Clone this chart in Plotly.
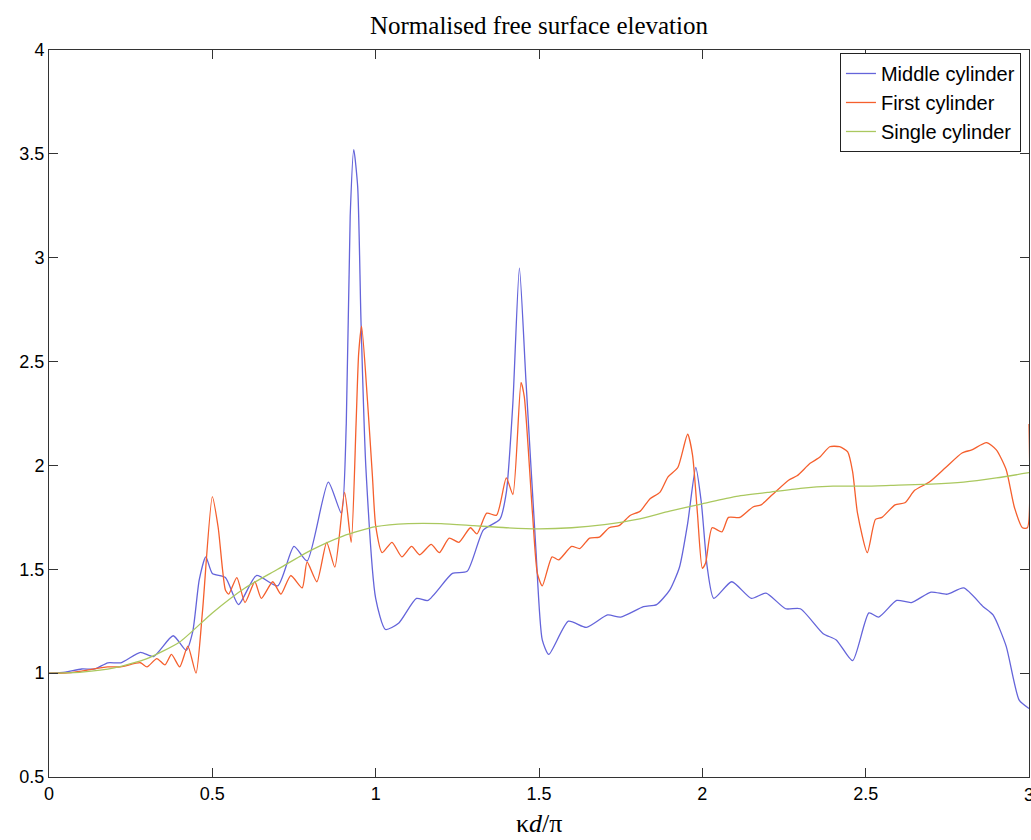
import plotly.graph_objects as go

# ---- data ----
middle_x = [0.0, 0.05, 0.1, 0.14, 0.18, 0.22, 0.28, 0.32, 0.38, 0.42, 0.44, 0.46, 0.48, 0.50, 0.54,
            0.58, 0.635, 0.70, 0.75, 0.79, 0.855, 0.895, 0.91, 0.922, 0.933, 0.945, 0.955, 0.97, 1.0,
            1.03, 1.07, 1.125, 1.16, 1.235, 1.28, 1.33, 1.38, 1.40, 1.42, 1.44, 1.46, 1.49, 1.51, 1.53,
            1.59, 1.645, 1.71, 1.75, 1.82, 1.86, 1.90, 1.93, 1.955, 1.98, 1.997, 2.015, 2.035, 2.09,
            2.15, 2.195, 2.255, 2.30, 2.37, 2.41, 2.46, 2.51, 2.54, 2.595, 2.64, 2.70, 2.75, 2.80,
            2.86, 2.89, 2.93, 2.97, 3.0]
middle_y = [1.0, 1.005, 1.02, 1.02, 1.05, 1.05, 1.10, 1.08, 1.18, 1.11, 1.20, 1.45, 1.56, 1.48, 1.46,
            1.33, 1.47, 1.42, 1.61, 1.54, 1.92, 1.77, 2.2, 3.2, 3.52, 3.34, 2.7, 1.99, 1.36,
            1.21, 1.24, 1.36, 1.35, 1.48, 1.49, 1.69, 1.74, 1.87, 2.3, 2.95, 2.41, 1.61, 1.16, 1.09,
            1.25, 1.22, 1.28, 1.27, 1.32, 1.33, 1.40, 1.51, 1.72, 1.99, 1.82, 1.51, 1.36, 1.44,
            1.36, 1.385, 1.31, 1.31, 1.19, 1.16, 1.06, 1.29, 1.27, 1.35, 1.34, 1.39, 1.38, 1.41,
            1.32, 1.28, 1.13, 0.87, 0.83]

first_x = [0.0, 0.05, 0.1, 0.18, 0.22, 0.28, 0.30, 0.33, 0.355, 0.375, 0.40, 0.425, 0.45, 0.47, 0.50,
           0.518, 0.54, 0.55, 0.575, 0.60, 0.63, 0.65, 0.685, 0.71, 0.74, 0.775, 0.79, 0.82, 0.85,
           0.875, 0.905, 0.925, 0.94, 0.948, 0.957, 0.975, 0.99, 1.0, 1.02, 1.05, 1.08, 1.11, 1.135,
           1.17, 1.195, 1.225, 1.255, 1.29, 1.31, 1.34, 1.37, 1.40, 1.42, 1.445, 1.455, 1.48, 1.495,
           1.51, 1.54, 1.56, 1.60, 1.625, 1.655, 1.685, 1.715, 1.745, 1.78, 1.81, 1.84, 1.87, 1.895,
           1.925, 1.955, 1.97, 1.985, 2.0, 2.01, 2.03, 2.06, 2.08, 2.115, 2.155, 2.18, 2.215, 2.265,
           2.29, 2.33, 2.36, 2.39, 2.42, 2.445, 2.46, 2.475, 2.505, 2.53, 2.55, 2.59, 2.62, 2.65,
           2.695, 2.745, 2.795, 2.825, 2.87, 2.90, 2.93, 2.955, 2.98, 2.995, 3.0]
first_y = [1.0, 1.0, 1.01, 1.03, 1.03, 1.05, 1.03, 1.07, 1.04, 1.09, 1.03, 1.13, 1.0, 1.3, 1.85,
           1.70, 1.40, 1.38, 1.46, 1.34, 1.44, 1.36, 1.44, 1.38, 1.47, 1.41, 1.535, 1.44, 1.63,
           1.51, 1.87, 1.63, 2.2, 2.54, 2.67, 2.31, 1.95, 1.71, 1.58, 1.63, 1.56, 1.61, 1.57,
           1.62, 1.58, 1.65, 1.63, 1.70, 1.67, 1.77, 1.76, 1.94, 1.86, 2.40, 2.33, 1.77, 1.48,
           1.42, 1.56, 1.545, 1.61, 1.60, 1.65, 1.655, 1.70, 1.71, 1.76, 1.78, 1.84, 1.87, 1.945,
           1.99, 2.15, 2.05, 1.77, 1.505, 1.53, 1.70, 1.68, 1.75, 1.75, 1.80, 1.81, 1.86, 1.93,
           1.95, 2.01, 2.04, 2.09, 2.09, 2.065, 1.97, 1.77, 1.58, 1.74, 1.75, 1.81, 1.82, 1.88,
           1.92, 1.99, 2.06, 2.075, 2.11, 2.075, 1.98, 1.80, 1.70, 1.70, 2.2]

single_x = [0.0, 0.1, 0.2, 0.3, 0.4, 0.5, 0.6, 0.7, 0.8, 0.9, 1.0, 1.1, 1.2, 1.3, 1.4, 1.5, 1.6,
            1.7, 1.8, 1.9, 2.0, 2.1, 2.2, 2.3, 2.4, 2.5, 2.6, 2.7, 2.8, 2.9, 3.0]
single_y = [1.0, 1.005, 1.025, 1.07, 1.15, 1.29, 1.41, 1.50, 1.59, 1.66, 1.705, 1.72, 1.72, 1.71,
            1.70, 1.695, 1.70, 1.715, 1.74, 1.78, 1.815, 1.85, 1.87, 1.89, 1.90, 1.90, 1.905, 1.91,
            1.92, 1.94, 1.965]

x_ticks = [0, 0.5, 1, 1.5, 2, 2.5, 3]
y_ticks = [0.5, 1, 1.5, 2, 2.5, 3, 3.5, 4]

series = [
    ("Middle cylinder", middle_x, middle_y, "rgb(100,100,218)"),
    ("First cylinder", first_x, first_y, "rgb(245,95,45)"),
    ("Single cylinder", single_x, single_y, "rgb(170,200,95)"),
]

fig = go.Figure()
for name, xs, ys, col in series:
    fig.add_trace(go.Scatter(x=xs, y=ys, mode="lines", name=name,
                             line=dict(color=col, width=1.3, shape="spline", smoothing=0.6)))

tick_font = dict(family="Liberation Sans, Arial", size=18, color="black")
axis_common = dict(showline=True, linecolor="#333333", linewidth=1, mirror="ticks",
                   ticks="inside", ticklen=9, tickcolor="#333333", tickwidth=1,
                   showgrid=False, zeroline=False, tickfont=tick_font)

fig.update_layout(
    width=1031, height=840,
    margin=dict(l=49, r=2, t=50, b=63),
    paper_bgcolor="white", plot_bgcolor="white",
    title=dict(text="Normalised free surface elevation", x=0.5, xref="paper",
               y=1 - 25 / 840, yref="container", yanchor="middle",
               font=dict(family="Liberation Serif, Times New Roman", size=25, color="black")),
    xaxis=dict(range=[0, 3], tickvals=x_ticks[:-1], ticktext=[f"{v:g}" for v in x_ticks[:-1]],
               **axis_common),
    yaxis=dict(range=[0.5, 4], tickvals=y_ticks, ticktext=[f"{v:g}" for v in y_ticks], **axis_common),
    legend=dict(x=0.9918, y=0.9959, xanchor="right", yanchor="top",
                bgcolor="white", bordercolor="#222222", borderwidth=1,
                font=dict(family="Liberation Sans, Arial", size=20, color="black")),
    showlegend=True,
)

# last x tick label (sits on the right edge, partly cut off as in the reference)
fig.add_annotation(text=f"{x_ticks[-1]:g}", xref="x", yref="paper", x=x_ticks[-1], y=0,
                   yanchor="top", yshift=-6, showarrow=False, font=tick_font)

fig.add_annotation(text="κ<i>d</i>/π", xref="paper", yref="paper", x=0.5, y=-46 / 727,
                   yanchor="middle", showarrow=False,
                   font=dict(family="Liberation Serif, Times New Roman", size=26, color="black"))

fig.write_html("out.html")
